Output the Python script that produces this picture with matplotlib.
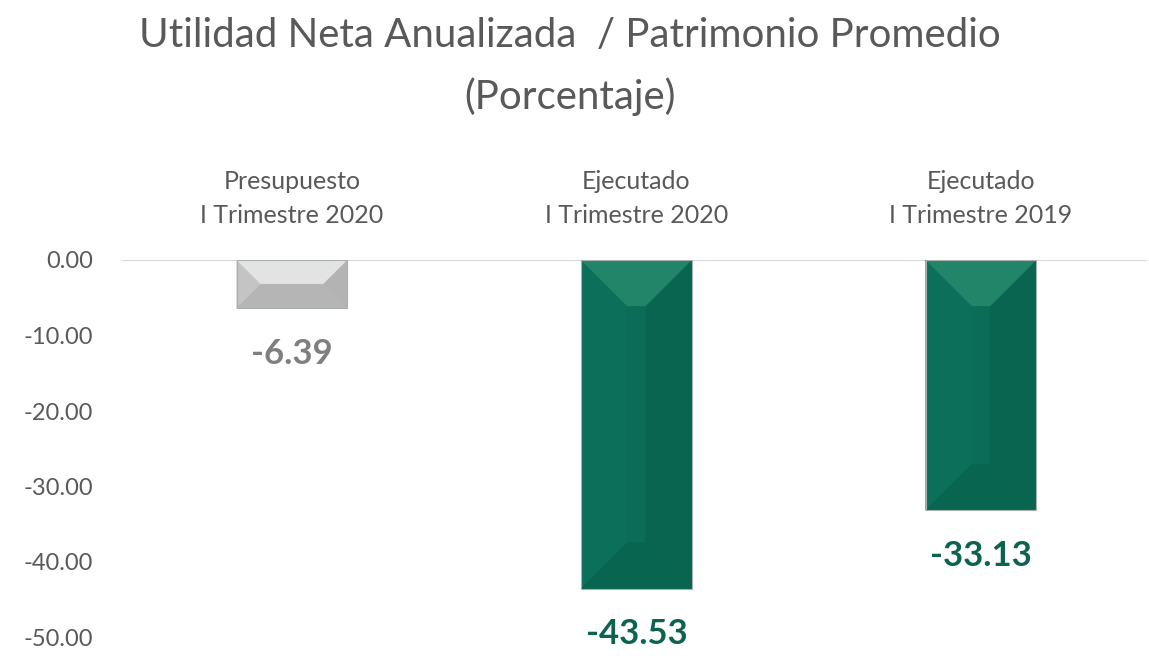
import matplotlib
matplotlib.use('Agg')
import matplotlib.pyplot as plt
from matplotlib.patches import Polygon

# data
categories = ['Presupuesto\nI Trimestre 2020', 'Ejecutado\nI Trimestre 2020', 'Ejecutado\nI Trimestre 2019']
values = [-6.39, -43.53, -33.13]
labels = ['-6.39', '-43.53', '-33.13']
yticks = [0, -10, -20, -30, -40, -50]

# colours per bar: main, top, bottom, left, right, label
gray = dict(main='#bdbdbd', top='#e3e3e3', bottom='#b5b5b5', left='#c4c4c4', right='#b3b3b3', text='#7f7f7f')
green = dict(main='#0b6d57', top='#22856a', bottom='#086550', left='#0c6f59', right='#096550', text='#0b6350')
styles = [gray, green, green]

plt.rcParams['font.family'] = ['Lato', 'DejaVu Sans']

fig = plt.figure(figsize=(11.49, 6.56), dpi=100)
ax = fig.add_axes([122/1149, 1 - 637.5/656, 1025/1149, 377.5/656])

x = list(range(len(values)))
bars = ax.bar(x, values, width=0.32, color=[s['main'] for s in styles],
              edgecolor='none', zorder=2)

ax.set_xlim(-0.493, 2.482)
ax.set_ylim(-50, 0)

# px -> data scale for bevel depth
px_x = 2.975 / 1025
px_y = 50 / 377.5
for b, s in zip(bars, styles):
    x0 = b.get_x()
    w = b.get_width()
    top = b.get_y()
    bot = b.get_y() + b.get_height()
    h = abs(bot - top)
    d_px = min(46, h / px_y / 2)
    dx = min(d_px * px_x, w / 2 * 0.85)
    dy = d_px * px_y
    x1 = x0 + w
    polys = [
        ([(x0, top), (x0 + dx, top - dy), (x0 + dx, bot + dy), (x0, bot)], s['left']),
        ([(x1, top), (x1 - dx, top - dy), (x1 - dx, bot + dy), (x1, bot)], s['right']),
        ([(x0, top), (x1, top), (x1 - dx, top - dy), (x0 + dx, top - dy)], s['top']),
        ([(x0, bot), (x1, bot), (x1 - dx, bot + dy), (x0 + dx, bot + dy)], s['bottom']),
    ]
    for pts, c in polys:
        ax.add_patch(Polygon(pts, closed=True, facecolor=c, edgecolor=c, lw=0.3, zorder=3))
    ax.add_patch(Polygon([(x0, top), (x1, top), (x1, bot), (x0, bot)], closed=True,
                         facecolor='none', edgecolor='#a7b0ad', lw=0.8, zorder=4))

ax.axhline(0, color='#d9d9d9', lw=1.5, zorder=1)

for xi, v, lab, s in zip(x, values, labels, styles):
    ax.annotate(lab, (xi, v), xytext=(0, -33), textcoords='offset points',
                ha='center', va='center', fontsize=25, fontweight='bold',
                color=s['text'], annotation_clip=False)

for xi, cat in zip(x, categories):
    ax.text(xi, 1.163, cat, transform=ax.get_xaxis_transform(), ha='center', va='center',
            fontsize=18, color='#595959', linespacing=1.6)

ax.set_yticks(yticks)
ax.set_yticklabels(['%.2f' % t for t in yticks], fontsize=17, color='#595959')
ax.tick_params(axis='y', length=0, pad=21)
ax.set_xticks([])
for sp in ax.spines.values():
    sp.set_visible(False)

fig.text(0.496, 0.946, 'Utilidad Neta Anualizada  / Patrimonio Promedio', ha='center', va='center',
         fontsize=29, color='#595959')
fig.text(0.496, 0.852, '(Porcentaje)', ha='center', va='center', fontsize=29, color='#595959')

fig.savefig('out.png', dpi=100)
